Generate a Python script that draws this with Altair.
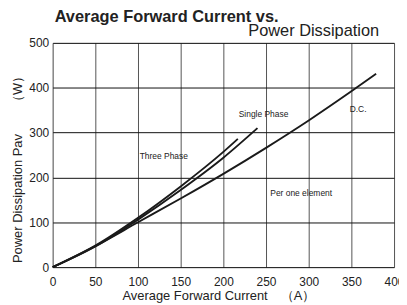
import altair as alt
import pandas as pd

# Curves (current A, power W)
three_x = [0, 50, 100, 150, 200, 217]
three_y = [0, 48, 110, 180, 257, 286]
single_x = [0, 50, 100, 150, 200, 240]
single_y = [0, 46, 106, 172, 244, 310]
dc_x = [0, 50, 100, 150, 200, 250, 300, 350, 379]
dc_y = [0, 47, 100, 153, 208, 266, 327, 392, 431]

x_ticks = [0, 50, 100, 150, 200, 250, 300, 350, 400]
y_ticks = [0, 100, 200, 300, 400, 500]

ann_text = ["Three Phase", "Single Phase", "D.C.", "Per one element"]
ann_x = [102, 218, 348, 255]
ann_y = [247, 341, 352, 166]

rows = []
for name, xs, ys in [("Three Phase", three_x, three_y),
                     ("Single Phase", single_x, single_y),
                     ("D.C.", dc_x, dc_y)]:
    for i, (a, b) in enumerate(zip(xs, ys)):
        rows.append({"series": name, "I": a, "P": b, "o": i})
df = pd.DataFrame(rows)
ann = pd.DataFrame({"t": ann_text, "I": ann_x, "P": ann_y})

W, H = 344, 226
FONT = "Liberation Sans"

xs = alt.Scale(domain=[0, 400], nice=False)
ys = alt.Scale(domain=[0, 500], nice=False)

lines = alt.Chart(df).mark_line(strokeWidth=1.9, color="#1a1a1a", interpolate="monotone").encode(
    x=alt.X("I:Q", scale=xs, axis=alt.Axis(
        values=x_ticks, title="Average Forward Current　（A）", grid=True, gridColor="#555",
        gridWidth=1, ticks=False, domain=False, labelFontSize=12, labelColor="#222",
        labelFont=FONT, labelPadding=9, titleFont=FONT, titleFontSize=13,
        titleFontWeight="normal", titleColor="#222", titleX=167, titleY=29,
        titleBaseline="middle", labelFlush=False)),
    y=alt.Y("P:Q", scale=ys, axis=alt.Axis(
        values=y_ticks, title="Power Dissipation Pav　　（W）", grid=True, gridColor="#111",
        gridWidth=1, ticks=False, domain=False, labelFontSize=12, labelColor="#222",
        labelFont=FONT, labelPadding=4, titleFont=FONT, titleFontSize=13,
        titleFontWeight="normal", titleColor="#222", titleX=-35, titleY=124,
        titleBaseline="middle", titleAngle=-90, titleAlign="center")),
    detail="series:N",
    order="o:Q",
)

labels = alt.Chart(ann).mark_text(align="left", baseline="middle", fontSize=8.5,
                                   font=FONT, color="#222").encode(
    x=alt.X("I:Q", scale=xs), y=alt.Y("P:Q", scale=ys), text="t:N")

t1 = alt.Chart(pd.DataFrame({"t": ["Average Forward Current vs."]})).mark_text(
    align="left", baseline="alphabetic", fontSize=16.5, fontWeight="bold", font=FONT,
    color="#222").encode(x=alt.value(2), y=alt.value(-21), text="t:N")
t2 = alt.Chart(pd.DataFrame({"t": ["Power Dissipation"]})).mark_text(
    align="right", baseline="alphabetic", fontSize=16.5, font=FONT,
    color="#222").encode(x=alt.value(329), y=alt.value(-7), text="t:N")

chart = alt.layer(lines, labels, t1, t2).properties(
    width=W, height=H,
    autosize=alt.AutoSizeParams(type="none"),
    padding={"left": 45, "top": 34, "right": 5, "bottom": 35},
).configure_view(stroke="#111", strokeWidth=1).configure(background="white")

chart.save("out.html", embed_options={"renderer": "svg", "actions": False})
